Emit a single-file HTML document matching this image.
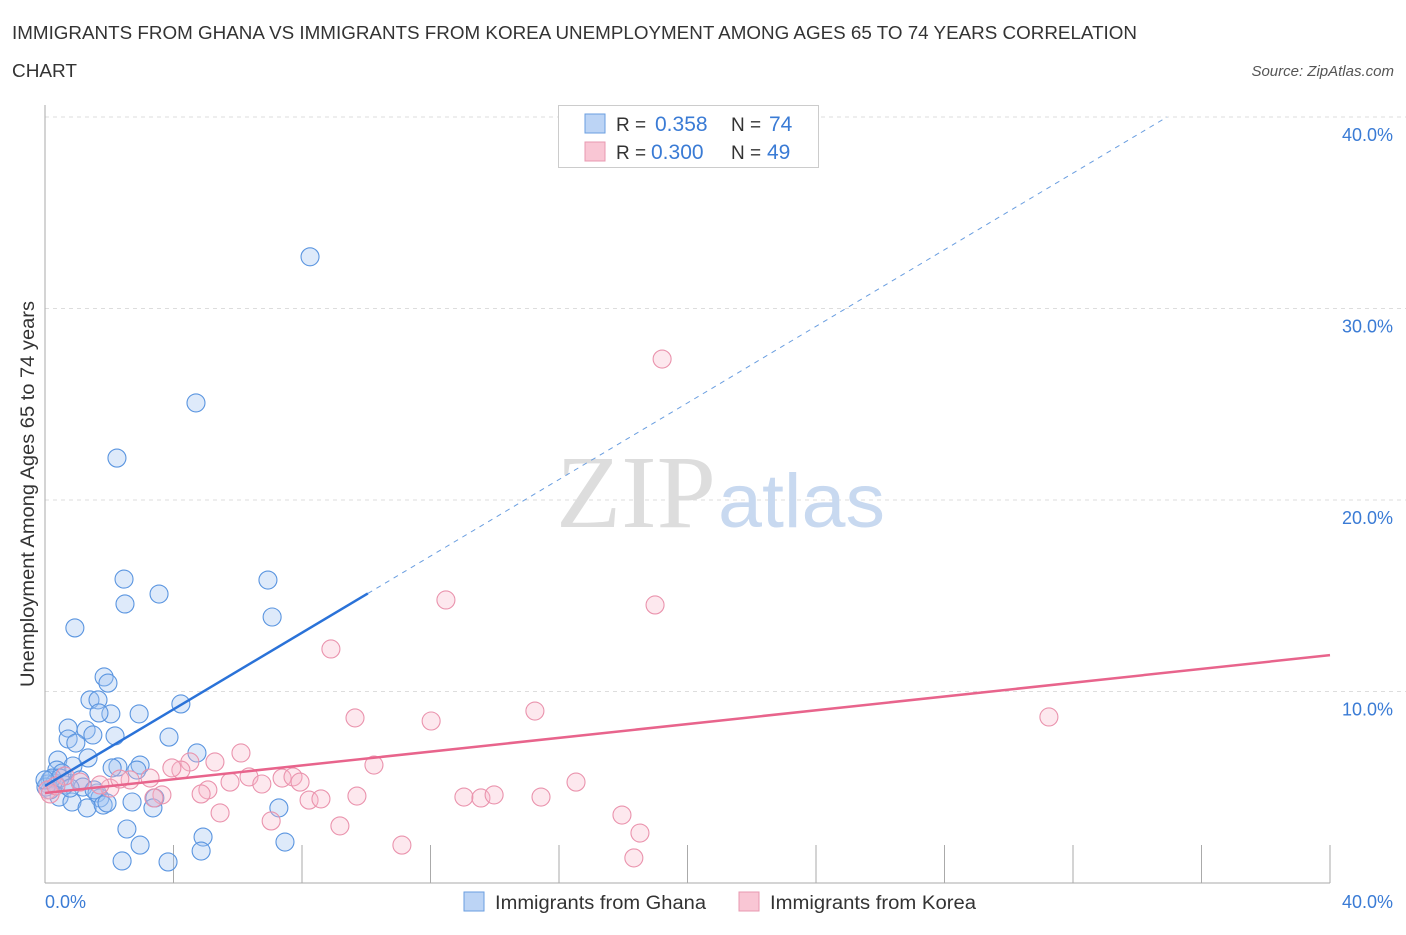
<!DOCTYPE html>
<html><head><meta charset="utf-8"><style>
body{margin:0;background:#fff;font-family:"Liberation Sans",sans-serif;}
</style></head><body>
<svg width="1406" height="930" xmlns="http://www.w3.org/2000/svg">
<text x="12" y="39" font-size="18" fill="#333" textLength="1125" lengthAdjust="spacingAndGlyphs">IMMIGRANTS FROM GHANA VS IMMIGRANTS FROM KOREA UNEMPLOYMENT AMONG AGES 65 TO 74 YEARS CORRELATION</text>
<text x="12" y="77" font-size="18" fill="#333" textLength="65" lengthAdjust="spacingAndGlyphs">CHART</text>
<text x="1394" y="76" font-size="15" fill="#555" font-style="italic" text-anchor="end">Source: ZipAtlas.com</text>
<g id="grid"></g>
<text x="716" y="527" font-size="104" fill="#ddd" text-anchor="end" font-family="Liberation Serif,serif" textLength="160" lengthAdjust="spacingAndGlyphs">ZIP</text>
<text x="718" y="527" font-size="76" fill="#c8d9f0" textLength="167" lengthAdjust="spacingAndGlyphs">atlas</text>
<g id="marks"></g>
<text transform="translate(34,494) rotate(-90)" font-size="19" fill="#333" text-anchor="middle" textLength="386" lengthAdjust="spacingAndGlyphs">Unemployment Among Ages 65 to 74 years</text>
<text x="45" y="908" font-size="18" fill="#3a7bd5">0.0%</text>
<text x="1393" y="908" font-size="18" fill="#3a7bd5" text-anchor="end">40.0%</text>
<g>
<rect x="558.500" y="105.500" width="260" height="62" fill="#fff" stroke="#ccc"/>
<rect x="585" y="114" width="20" height="19" fill="#bcd4f5" stroke="#6a9ee0"/>
<rect x="585" y="142" width="20" height="19" fill="#f9c6d4" stroke="#e898b0"/>
<text x="616" y="131" font-size="19" fill="#333">R = </text>
<text x="655" y="131" font-size="21" fill="#3a7bd5">0.358</text>
<text x="731" y="131" font-size="19" fill="#333">N = </text>
<text x="769" y="131" font-size="21" fill="#3a7bd5">74</text>
<text x="616" y="159" font-size="19" fill="#333">R = </text>
<text x="651" y="159" font-size="21" fill="#3a7bd5">0.300</text>
<text x="731" y="159" font-size="19" fill="#333">N = </text>
<text x="767" y="159" font-size="21" fill="#3a7bd5">49</text>
</g>
<g>
<rect x="464" y="892" width="20" height="19" fill="#bcd4f5" stroke="#6a9ee0"/>
<text x="495" y="909" font-size="19" fill="#333" textLength="211" lengthAdjust="spacingAndGlyphs">Immigrants from Ghana</text>
<rect x="739" y="892" width="20" height="19" fill="#f9c6d4" stroke="#e898b0"/>
<text x="770" y="909" font-size="19" fill="#333" textLength="206" lengthAdjust="spacingAndGlyphs">Immigrants from Korea</text>
</g>
</svg>
<script>
const yTicks=[10,20,30,40];
const yTickLabels=["10.0%","20.0%","30.0%","40.0%"];
const ghanaX=[8.25,4.7,2.24,2.46,6.94,3.55,2.49,7.07,0.93,1.84,1.96,1.40,1.65,4.23,2.05,2.93,1.68,0.72,1.28,2.18,3.86,0.72,1.49,0.96,4.73,1.34,0.40,0.87,2.96,2.27,2.09,2.86,0.37,0.53,0.16,0.09,0.31,0.62,1.09,1.18,3.42,1.62,1.71,0.44,0.84,1.31,1.81,1.93,2.71,3.36,7.28,2.55,4.92,2.96,7.47,4.86,2.40,3.83,0.16,0.03,0.22,0.47,0.78,1.53,0.0];
const ghanaY=[32.7,25.07,22.19,15.87,15.82,15.09,14.57,13.89,13.32,10.76,10.44,9.56,9.56,9.35,8.83,8.83,8.88,8.09,7.99,7.68,7.62,7.52,7.73,7.31,6.79,6.53,6.42,6.11,6.16,6.06,6.01,5.90,5.90,5.74,5.38,5.17,5.22,5.12,5.38,5.01,4.44,4.70,4.44,4.49,4.23,3.92,4.07,4.18,4.23,3.92,3.92,2.82,2.40,1.98,2.14,1.67,1.15,1.10,4.86,5.01,5.48,5.48,4.96,4.86,5.38];
const koreaX=[19.21,12.48,18.99,8.90,31.25,9.65,12.02,15.25,6.10,4.51,10.24,4.23,3.95,5.29,3.27,6.35,7.38,7.72,7.94,5.76,6.75,5.07,4.86,3.64,3.39,8.22,8.59,9.71,13.04,13.57,13.98,15.44,16.53,5.45,7.04,9.18,17.96,18.52,11.11,18.33,2.65,2.02,0.62,0.09,0.16,1.71,1.09,2.33,0.34];
const koreaY=[27.36,14.78,14.52,12.22,8.67,8.62,8.46,8.98,6.79,6.32,6.16,5.90,6.01,6.32,5.48,5.54,5.48,5.54,5.27,5.27,5.17,4.86,4.65,4.60,4.44,4.33,4.39,4.54,4.49,4.44,4.60,4.49,5.27,3.66,3.24,2.98,3.55,2.61,1.98,1.31,5.38,4.96,5.59,4.86,4.65,5.12,5.27,5.43,5.07];
const ghanaTrend=[5.07,1.0];
const koreaTrend=[4.7,0.18];
const NS="http://www.w3.org/2000/svg";
const X0=45,X1=1330,Y0=883,YT=117;
const sx=v=>X0+v/40*(X1-X0);
const sy=v=>Y0-v/40*(Y0-YT);
function mk(tag,attrs,parent){const e=document.createElementNS(NS,tag);for(const k in attrs)e.setAttribute(k,attrs[k]);parent.appendChild(e);return e;}
const grid=document.getElementById('grid');
yTicks.forEach((t,i)=>{
 const l=mk('line',{x1:X0,x2:1406,y1:sy(t),y2:sy(t),stroke:'#ddd','stroke-dasharray':'4,4'},grid);
 
 
 const tx=mk('text',{x:1393,y:sy(t)+24,'font-size':18,fill:'#3a7bd5','text-anchor':'end'},grid);
 tx.textContent=yTickLabels[i];
 
 
});
const ax=mk('line',{x1:X0,x2:X0,y1:105,y2:Y0,stroke:'#aaa'},grid);


const bx=mk('line',{x1:X0,x2:X1,y1:Y0,y2:Y0,stroke:'#aaa'},grid);


for(let i=0;i<=10;i++){
 const t=mk('line',{x1:sx(i*4),x2:sx(i*4),y1:845,y2:Y0,stroke:'#aaa'},grid);
 
 
}
const marks=document.getElementById('marks');
ghanaX.forEach((v,i)=>{
 const c=mk('circle',{cx:sx(v),cy:sy(ghanaY[i]),r:9,fill:'rgba(160,196,240,0.35)',stroke:'#5a95e0','stroke-width':1.1},marks);
 
 
});
koreaX.forEach((v,i)=>{
 const c=mk('circle',{cx:sx(v),cy:sy(koreaY[i]),r:9,fill:'rgba(248,182,202,0.32)',stroke:'#ea93ad','stroke-width':1.1},marks);
 
 
});
const gEnd=10.05, gTop=(40-ghanaTrend[0])/ghanaTrend[1];
const g1=mk('line',{x1:sx(0),y1:sy(ghanaTrend[0]),x2:sx(gEnd),y2:sy(ghanaTrend[0]+ghanaTrend[1]*gEnd),stroke:'#2a72d8','stroke-width':2.5},marks);


const g2=mk('line',{x1:sx(gEnd),y1:sy(ghanaTrend[0]+ghanaTrend[1]*gEnd),x2:sx(gTop),y2:sy(40),stroke:'#6a9ee0','stroke-width':1,'stroke-dasharray':'5,5'},marks);


const k1=mk('line',{x1:sx(0),y1:sy(koreaTrend[0]),x2:sx(40),y2:sy(koreaTrend[0]+koreaTrend[1]*40),stroke:'#e8648c','stroke-width':2.5},marks);


</script>
</body></html>
